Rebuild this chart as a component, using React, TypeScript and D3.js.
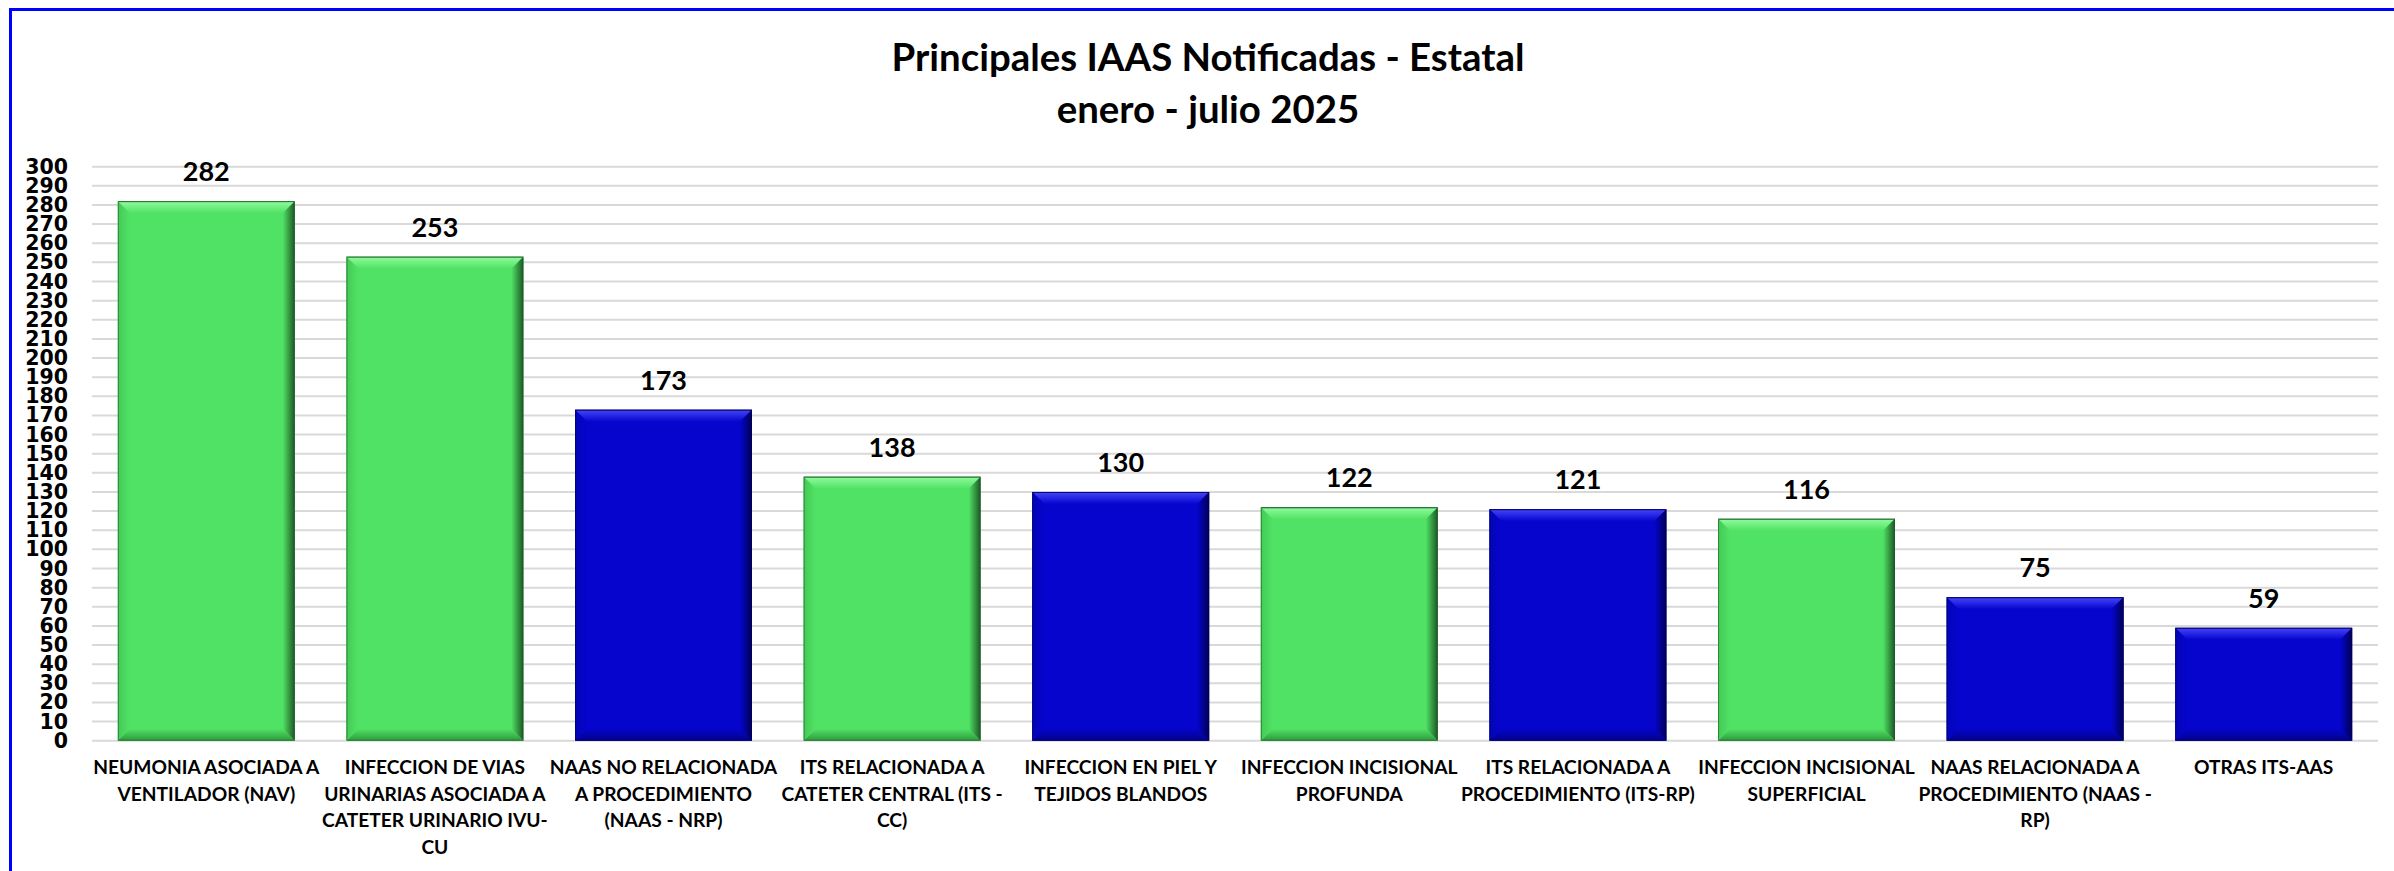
import React, { useEffect, useRef } from "react";
import * as d3 from "d3";

// categories carry their own line breaks, the way the source chart wraps them
const categories = [
  "NEUMONIA ASOCIADA A\nVENTILADOR (NAV)",
  "INFECCION DE VIAS\nURINARIAS ASOCIADA A\nCATETER URINARIO IVU-\nCU",
  "NAAS NO RELACIONADA\nA PROCEDIMIENTO\n(NAAS - NRP)",
  "ITS RELACIONADA A\nCATETER CENTRAL (ITS -\nCC)",
  "INFECCION EN PIEL Y\nTEJIDOS BLANDOS",
  "INFECCION INCISIONAL\nPROFUNDA",
  "ITS RELACIONADA A\nPROCEDIMIENTO (ITS-RP)",
  "INFECCION INCISIONAL\nSUPERFICIAL",
  "NAAS RELACIONADA A\nPROCEDIMIENTO (NAAS -\nRP)",
  "OTRAS ITS-AAS",
];
const values = [282, 253, 173, 138, 130, 122, 121, 116, 75, 59];
const barGroups = ["green", "green", "blue", "green", "blue", "green", "blue", "green", "blue", "blue"];
const yTicks = [0, 10, 20, 30, 40, 50, 60, 70, 80, 90, 100, 110, 120, 130, 140, 150, 160, 170, 180, 190, 200, 210, 220, 230, 240, 250, 260, 270, 280, 290, 300];
const titleLines = ["Principales IAAS Notificadas - Estatal", "enero - julio 2025"];

const palette = {
  green: { base: "#50E264", light: "#8AF897", edge: "#1D5626", low: "#2E9A3D", side: "#45C957" },
  blue: { base: "#0505CD", light: "#3E3EF7", edge: "#000055", low: "#02028A", side: "#0404B5" },
};

const App = () => {
  const svgRef = useRef(null);

  useEffect(() => {
    const svg = d3.select(svgRef.current);
    svg.selectAll("*").remove();

    const width = 2394;
    const height = 871;
    const left = 92;
    const right = 2378;
    const top = 166.7;
    const bottom = 740.7;
    const bevel = 12;

    svg.attr("width", width).attr("height", height);

    svg.append("rect").attr("width", width).attr("height", height).attr("fill", "white");

    // frame (only left and top edges fall inside the picture)
    svg.append("rect")
      .attr("x", 10.5).attr("y", 9.5)
      .attr("width", 2600).attr("height", 1000)
      .attr("fill", "none")
      .attr("stroke", "#0000FF")
      .attr("stroke-width", 3);

    const x = d3.scaleBand()
      .domain(categories)
      .range([left, right])
      .paddingInner(0.226)
      .paddingOuter(0.113);

    const y = d3.scaleLinear().domain([0, 300]).range([bottom, top]);

    // gradients for the bevelled bars
    const defs = svg.append("defs");
    Object.entries(palette).forEach(([name, c]) => {
      const grad = (id, x1, y1, x2, y2, stops) => {
        const g = defs.append("linearGradient").attr("id", id)
          .attr("x1", x1).attr("y1", y1).attr("x2", x2).attr("y2", y2);
        stops.forEach(([o, col]) => g.append("stop").attr("offset", o).attr("stop-color", col));
      };
      grad(`${name}-top`, 0, 0, 0, 1, [[0, c.edge], [0.12, c.light], [1, c.base]]);
      grad(`${name}-right`, 0, 0, 1, 0, [[0, c.base], [1, c.edge]]);
      grad(`${name}-bottom`, 0, 0, 0, 1, [[0, c.base], [1, c.low]]);
      grad(`${name}-left`, 0, 0, 1, 0, [[0, c.side], [1, c.base]]);
    });

    // gridlines
    svg.append("g")
      .selectAll("line")
      .data(yTicks)
      .enter()
      .append("line")
      .attr("x1", left)
      .attr("x2", right)
      .attr("y1", d => y(d))
      .attr("y2", d => y(d))
      .attr("stroke", "#D9D9D9")
      .attr("stroke-width", 2);

    // y axis labels
    const yAxis = svg.append("g")
      .attr("transform", `translate(${left},0)`)
      .call(d3.axisLeft(y).tickValues(yTicks).tickSize(0).tickPadding(24));
    yAxis.select(".domain").remove();
    yAxis.selectAll("text")
      .attr("fill", "#000")
      .style("font-family", "'DejaVu Sans', sans-serif")
      .style("font-weight", "bold")
      .style("font-size", "20.5px");

    // bars
    const bars = svg.append("g");
    categories.forEach((cat, i) => {
      const group = barGroups[i];
      const c = palette[group];
      const bx = x(cat);
      const bw = x.bandwidth();
      const by = y(values[i]);
      const bh = y(0) - by;
      const b = Math.min(bevel, bh / 2);
      const g = bars.append("g");
      g.append("rect")
        .attr("x", bx).attr("y", by)
        .attr("width", bw).attr("height", bh)
        .attr("fill", c.base);
      const polys = {
        top: [[bx, by], [bx + bw, by], [bx + bw - b, by + b], [bx + b, by + b]],
        right: [[bx + bw, by], [bx + bw, by + bh], [bx + bw - b, by + bh - b], [bx + bw - b, by + b]],
        bottom: [[bx, by + bh], [bx + bw, by + bh], [bx + bw - b, by + bh - b], [bx + b, by + bh - b]],
        left: [[bx, by], [bx + b, by + b], [bx + b, by + bh - b], [bx, by + bh]],
      };
      Object.entries(polys).forEach(([side, pts]) => {
        g.append("polygon")
          .attr("points", pts.map(p => p.join(",")).join(" "))
          .attr("fill", `url(#${group}-${side})`);
      });
      g.append("rect")
        .attr("x", bx + 0.5).attr("y", by + 0.5)
        .attr("width", bw - 1).attr("height", bh - 1)
        .attr("fill", "none")
        .attr("stroke", c.edge)
        .attr("stroke-opacity", 0.6)
        .attr("stroke-width", 1);

      // value label
      svg.append("text")
        .attr("x", bx + bw / 2)
        .attr("y", by - 20)
        .attr("text-anchor", "middle")
        .style("font-family", "Lato, sans-serif")
        .style("font-weight", 700)
        .style("font-size", "27px")
        .attr("fill", "#000")
        .text(values[i]);
    });

    // category labels
    const xLabels = svg.append("g");
    categories.forEach(cat => {
      const t = xLabels.append("text")
        .attr("text-anchor", "middle")
        .style("font-family", "Lato, sans-serif")
        .style("font-weight", 700)
        .style("font-size", "19.2px")
        .attr("fill", "#000");
      cat.split("\n").forEach((line, k) => {
        t.append("tspan")
          .attr("x", x(cat) + x.bandwidth() / 2)
          .attr("y", 774 + k * 26.5)
          .text(line);
      });
    });

    // title
    titleLines.forEach((line, k) => {
      svg.append("text")
        .attr("x", 1208)
        .attr("y", 71 + k * 52)
        .attr("text-anchor", "middle")
        .style("font-family", "Lato, sans-serif")
        .style("font-weight", 700)
        .style("font-size", "38.4px")
        .attr("fill", "#000")
        .text(line);
    });
  }, []);

  return (
    <div style={{ position: "absolute", left: 0, top: 0, width: "2394px", height: "871px", background: "white" }}>
      <svg ref={svgRef} style={{ display: "block" }} />
    </div>
  );
};

export default App;
